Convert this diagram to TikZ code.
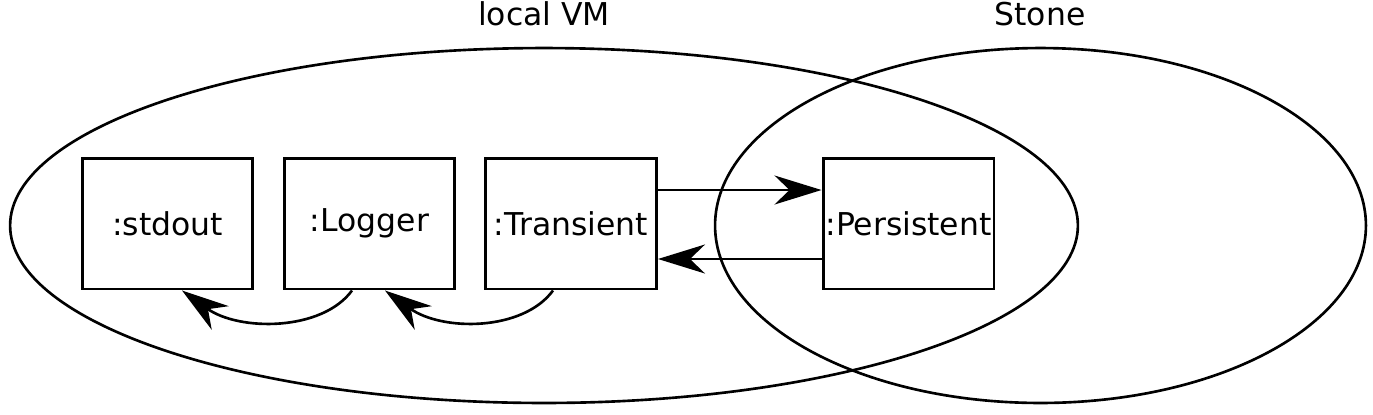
\documentclass[tikz,border=0pt]{standalone}
\usepackage{fontspec}
\setmainfont{DejaVu Sans}
\usetikzlibrary{
    shapes.geometric,
    arrows.meta,
    positioning
}

\begin{document}
\begin{tikzpicture}[
        x=0.02cm, y=-0.02cm,
        every node/.style={font=\fontsize{17.9}{21}\selectfont},
        vmarea/.style={draw, ellipse, line width=1.5pt, minimum height=7.1cm, inner sep=0pt},
        object/.style={draw, line width=1.7pt, minimum width=3.42cm, minimum height=2.62cm, inner sep=0pt, align=center},
        arrow/.style={-{Stealth[length=0.94cm, width=0.58cm, inset=0.3cm]}, line width=1.5pt}
    ]
        \useasboundingbox (0,0) rectangle (1373,414);

        % Areas
        \node[vmarea, minimum width=21.36cm] (localvm) at (544,225.5) {};
        \node[vmarea, minimum width=13.02cm] (stone) at (1040.5,225.5) {};
        \node[anchor=base] (localvmlabel) at (544,25) {local VM};
        \node[anchor=base] (stonelabel) at (1040,25) {Stone};

        % Objects
        \node[object] (stdout) at (167.5,223.5) {:stdout};
        \node[object] (logger) at (369.5,223.5) {:Logger};
        \node[object] (transient) at (571,223.5) {:Transient};
        \node[object] (persistent) at (908.5,223.5) {:Persistent};

        % Arrows
        \draw[arrow] ([yshift=0.67cm]transient.east) -- ([yshift=0.67cm]persistent.west);
        \draw[arrow] ([yshift=-0.71cm]persistent.west) -- ([yshift=-0.71cm]transient.east);
        \draw[arrow] ([xshift=-0.35cm]logger.south) .. controls +(-0.6cm,-0.82cm) and +(1.14cm,-0.82cm) .. ([xshift=0.29cm]stdout.south);
        \draw[arrow] ([xshift=-0.36cm]transient.south) .. controls +(-0.6cm,-0.82cm) and +(1.14cm,-0.82cm) .. ([xshift=0.31cm]logger.south);
    \end{tikzpicture}
\end{document}
